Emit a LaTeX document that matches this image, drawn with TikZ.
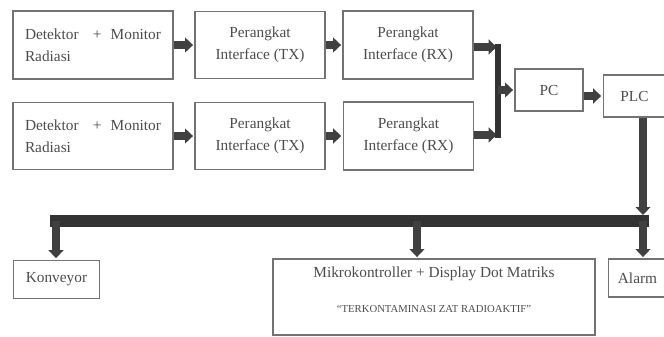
\documentclass[tikz,border=0pt]{standalone}
\usepackage{fontspec}
\setmainfont{Liberation Serif}
\usetikzlibrary{arrows.meta}

\begin{document}
\begin{tikzpicture}[x=0.75pt, y=-0.75pt,
  box/.style={rectangle, draw=black!55, line width=0.9pt, text=black!70,
    font=\fontsize{11.5}{16.5}\selectfont, inner sep=0pt, align=center},
  flow/.style={draw=black!75, line width=5.5pt, shorten >=1pt,
    -{Triangle[length=6pt, width=11pt]}},
  bus/.style={draw=black!80, line cap=rect}]
\useasboundingbox (0,0) rectangle (664,336);

\node[box, minimum width=120pt, minimum height=51pt, text width=102pt, align=left] (det1) at (93,45)
  {Detektor \hfill+\hfill Monitor\\Radiasi};
\node[box, minimum width=97.5pt, minimum height=50pt] (tx1) at (260,45) {Perangkat\\Interface (TX)};
\node[box, minimum width=97.5pt, minimum height=51pt] (rx1) at (408,45) {Perangkat\\Interface (RX)};
\node[box, minimum width=120pt, minimum height=50pt, text width=102pt, align=left] (det2) at (93,136)
  {Detektor \hfill+\hfill Monitor\\Radiasi};
\node[box, minimum width=97.5pt, minimum height=50pt] (tx2) at (260,136) {Perangkat\\Interface (TX)};
\node[box, minimum width=98pt, minimum height=51pt] (rx2) at (408.5,136) {Perangkat\\Interface (RX)};
\node[box, minimum width=51pt, minimum height=31.5pt] (pc) at (549,90) {PC};
\node[box, minimum width=47pt, minimum height=31.5pt] (plc) at (634.5,96) {PLC};
\node[box, minimum width=65pt, minimum height=29pt] (konv) at (56.5,279.5) {Konveyor};
\node[box, minimum width=241.5pt, minimum height=57pt] (mikro) at (434,297)
  {Mikrokontroller + Display Dot Matriks\\[10pt]
   {\fontsize{8}{9}\selectfont ``TERKONTAMINASI ZAT RADIOAKTIF''}\rule[-11pt]{0pt}{1pt}};
\node[box, minimum width=43pt, minimum height=28.5pt] (alarm) at (637.5,278) {Alarm};

% junction bar and bus
\coordinate (jtop) at (498,47);
\coordinate (jbot) at (498,135);
\coordinate (busL) at (56,221);
\coordinate (busM) at (417,221);
\coordinate (busR) at (643,221);

\draw[flow] (det1) -- (tx1);
\draw[flow] (tx1) -- (rx1);
\draw[flow] (det2) -- (tx2);
\draw[flow] (tx2) -- (rx2);
\draw[flow] (rx1.east |- jtop) -- (jtop);
\draw[flow] (rx2.east |- jbot) -- (jbot);
\draw[bus, line width=4.5pt] (jtop) -- (jbot);
\draw[flow] (jtop |- pc) -- (pc);
\draw[flow] (pc.east |- plc) -- (plc);

\draw[bus, line width=9pt] (busL) -- (busR);
\draw[flow, shorten >=4.5pt] (plc.south -| busR) -- (busR);
\draw[flow] (busL) -- (busL |- konv.north);
\draw[flow] (busM) -- (busM |- mikro.north);
\draw[flow] (busR) -- (busR |- alarm.north);
\end{tikzpicture}
\end{document}
